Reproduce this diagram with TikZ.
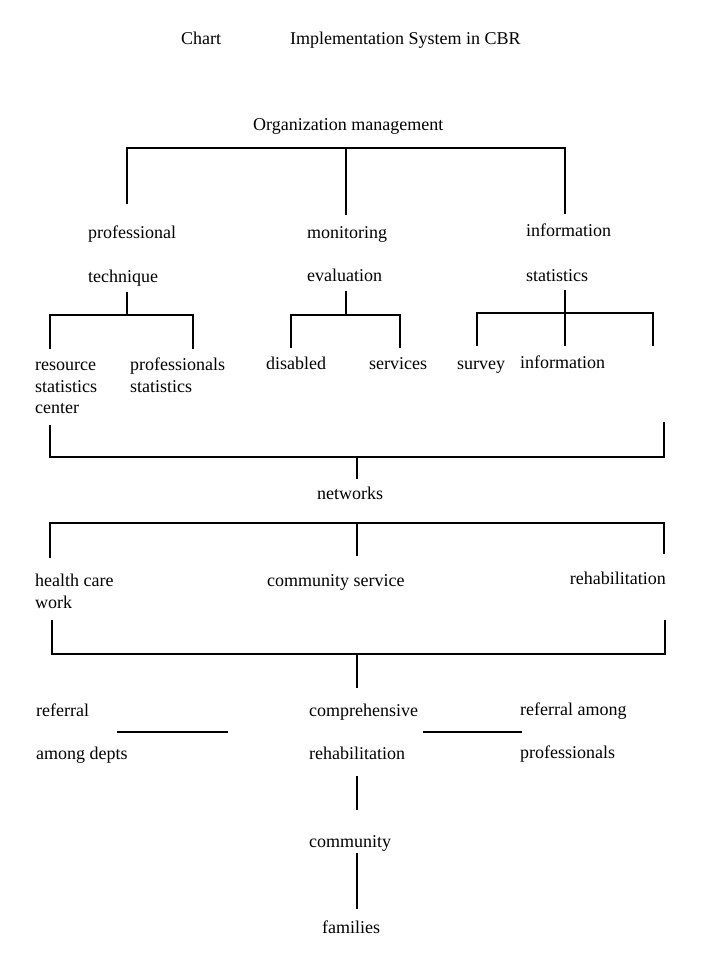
\documentclass[tikz,border=0pt]{standalone}
\usepackage{fontspec}
\setmainfont{Liberation Serif}
\begin{document}
\begin{tikzpicture}[x=1pt,y=-1pt,
  lbl/.style={anchor=base west,inner sep=0pt,font=\fontsize{18}{22}\selectfont},
  lblr/.style={anchor=base east,inner sep=0pt,font=\fontsize{18}{22}\selectfont},
  conn/.style={line width=1.6pt,line cap=rect}]
\useasboundingbox (0,0) rectangle (701,965);
% title
\node[lbl] (chart) at (181,45) {Chart};
\node[lbl] (title) at (290,45) {Implementation System in CBR};
% level 1
\node[lbl] (org) at (253,131) {Organization management};
\node[lbl] (pt1) at (88,239) {professional};
\node[lbl] (pt2) at (88,283) {technique};
\node[lbl] (me1) at (307,239) {monitoring};
\node[lbl] (me2) at (307,282) {evaluation};
\node[lbl] (is1) at (526,237) {information};
\node[lbl] (is2) at (526,281) {statistics};
% level 2
\node[lbl] (rs1) at (35,370) {resource};
\node[lbl] (rs2) at (35,392) {statistics};
\node[lbl] (rs3) at (35,413) {center};
\node[lbl] (ps1) at (130,370) {professionals};
\node[lbl] (ps2) at (130,392) {statistics};
\node[lbl] (dis) at (266,369) {disabled};
\node[lbl] (ser) at (369,369) {services};
\node[lbl] (sur) at (457,369) {survey};
\node[lbl] (inf) at (520,368) {information};
\node[lbl] (net) at (317,499) {networks};
\node[lbl] (hc1) at (35,586) {health care};
\node[lbl] (hc2) at (35,608) {work};
\node[lbl] (cs) at (267,586) {community service};
\node[lblr] (reh) at (666,584) {rehabilitation};
\node[lbl] (rd1) at (36,716) {referral};
\node[lbl] (rd2) at (36,759) {among depts};
\node[lbl] (cr1) at (309,716) {comprehensive};
\node[lbl] (cr2) at (309,759) {rehabilitation};
\node[lbl] (rp1) at (520,715) {referral among};
\node[lbl] (rp2) at (520,758) {professionals};
\node[lbl] (com) at (309,847) {community};
\node[lbl] (fam) at (322,933) {families};
% coordinates for connectors
\coordinate (a1) at (127,203); \coordinate (a2) at (127,148);
\coordinate (a3) at (565,148); \coordinate (a4) at (565,213);
\coordinate (a5) at (346,148); \coordinate (a6) at (346,214);
\coordinate (b1) at (127,293); \coordinate (b2) at (127,315);
\coordinate (b3) at (50,348); \coordinate (b4) at (50,315);
\coordinate (b5) at (193,315); \coordinate (b6) at (193,348);
\coordinate (c1) at (346,292); \coordinate (c2) at (346,315);
\coordinate (c3) at (291,347); \coordinate (c4) at (291,315);
\coordinate (c5) at (400,315); \coordinate (c6) at (400,347);
\coordinate (d1) at (565,291); \coordinate (d2) at (565,345);
\coordinate (d3) at (477,345); \coordinate (d4) at (477,313);
\coordinate (d5) at (653,313); \coordinate (d6) at (653,345);
\coordinate (e1) at (50,426); \coordinate (e2) at (50,457);
\coordinate (e3) at (664,457); \coordinate (e4) at (664,423);
\coordinate (e5) at (357,457); \coordinate (e6) at (357,478);
\coordinate (f1) at (50,557); \coordinate (f2) at (50,523);
\coordinate (f3) at (664,523); \coordinate (f4) at (664,553);
\coordinate (f5) at (357,523); \coordinate (f6) at (357,555);
\coordinate (g1) at (52,621); \coordinate (g2) at (52,654);
\coordinate (g3) at (665,654); \coordinate (g4) at (665,621);
\coordinate (g5) at (357,654); \coordinate (g6) at (357,687);
\coordinate (h1) at (118,732); \coordinate (h2) at (227,732);
\coordinate (h3) at (424,732); \coordinate (h4) at (521,732);
\coordinate (i1) at (357,777); \coordinate (i2) at (357,809);
\coordinate (j1) at (357,854); \coordinate (j2) at (357,908);
% connectors
\draw[conn] (a1) -- (a2) -- (a3) -- (a4);
\draw[conn] (a5) -- (a6);
\draw[conn] (b1) -- (b2);
\draw[conn] (b3) -- (b4) -- (b5) -- (b6);
\draw[conn] (c1) -- (c2);
\draw[conn] (c3) -- (c4) -- (c5) -- (c6);
\draw[conn] (d1) -- (d2);
\draw[conn] (d3) -- (d4) -- (d5) -- (d6);
\draw[conn] (e1) -- (e2) -- (e3) -- (e4);
\draw[conn] (e5) -- (e6);
\draw[conn] (f1) -- (f2) -- (f3) -- (f4);
\draw[conn] (f5) -- (f6);
\draw[conn] (g1) -- (g2) -- (g3) -- (g4);
\draw[conn] (g5) -- (g6);
\draw[conn] (h1) -- (h2);
\draw[conn] (h3) -- (h4);
\draw[conn] (i1) -- (i2);
\draw[conn] (j1) -- (j2);
\end{tikzpicture}
\end{document}
